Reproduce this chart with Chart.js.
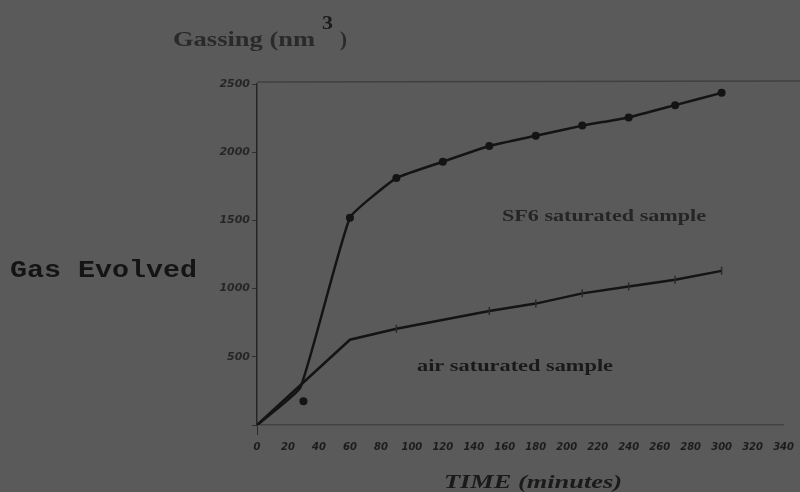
<!DOCTYPE html>
<html>
<head>
<meta charset="utf-8">
<title>Gassing</title>
<script src="https://cdn.jsdelivr.net/npm/chart.js@4.4.1/dist/chart.umd.min.js"></script>
<style>
  html, body { margin: 0; padding: 0; background: #5a5a5a; }
  #wrap { width: 800px; height: 492px; }
</style>
</head>
<body>
<div id="wrap"><canvas id="gasChart" width="800" height="492"></canvas></div>
<script>
// Axis ticks
var timeTicks = [0, 20, 40, 60, 80, 100, 120, 140, 160, 180, 200, 220, 240, 260, 280, 300, 320, 340];
var gasTicks = [0, 500, 1000, 1500, 2000, 2500];

// SF6 saturated sample (minutes / nm3)
var sf6Times = [0, 28, 60, 90, 120, 150, 180, 210, 240, 270, 300];
var sf6Gas = [0, 275, 1520, 1810, 1930, 2045, 2120, 2195, 2255, 2345, 2435];

// air saturated sample
var airTimes = [0, 60, 90, 150, 180, 210, 240, 270, 300];
var airGas = [0, 625, 705, 835, 890, 965, 1015, 1065, 1130];

// lone measured dot near 30 min
var dotTimes = [30];
var dotGas = [175];

var INK = '#141414';
var BG = '#5a5a5a';

function toPoints(xs, ys) {
  return xs.map(function(x, i) { return { x: x, y: ys[i] }; });
}

// draw text stretched to a given width (scan text is wide)
function fitText(ctx, text, font, left, right, baseline, color) {
  ctx.save();
  ctx.font = font;
  ctx.fillStyle = color;
  ctx.textAlign = 'left';
  ctx.textBaseline = 'alphabetic';
  var w = ctx.measureText(text).width;
  ctx.translate(left, baseline);
  ctx.scale((right - left) / w, 1);
  ctx.fillText(text, 0, 0);
  ctx.restore();
}

var decorPlugin = {
  id: 'decor',
  beforeDraw: function(chart) {
    var ctx = chart.ctx;
    ctx.save();
    ctx.fillStyle = BG;
    ctx.fillRect(0, 0, chart.width, chart.height);
    ctx.restore();
  },
  afterDraw: function(chart) {
    var ctx = chart.ctx;
    var area = chart.chartArea;
    var y = chart.scales.y;

    // top frame line running to the page edge
    ctx.save();
    ctx.strokeStyle = '#404040';
    ctx.lineWidth = 1.5;
    ctx.beginPath();
    ctx.moveTo(area.left, y.getPixelForValue(2500) - 2);
    ctx.lineTo(chart.width, y.getPixelForValue(2500) - 3);
    ctx.stroke();
    ctx.restore();

    // axis title top-left
    fitText(ctx, 'Gassing (nm', 'bold 22px "Liberation Serif"', 173, 315, 46, '#2a2a2a');
    fitText(ctx, '3', 'bold 19px "Liberation Serif"', 322, 333, 29, '#1c1c1c');
    fitText(ctx, ')', 'bold 22px "Liberation Serif"', 340, 347, 46, '#2a2a2a');

    // left label
    fitText(ctx, 'Gas Evolved', 'bold 23px "Liberation Mono"', 10, 197, 277, INK);

    // curve annotations
    fitText(ctx, 'SF6 saturated sample', 'bold 17px "Liberation Serif"', 502, 706, 221, '#252525');
    fitText(ctx, 'air saturated sample', 'bold 17px "Liberation Serif"', 417, 613, 371, '#1a1a1a');

    // x axis title
    fitText(ctx, 'TIME (minutes)', 'italic bold 19px "Liberation Serif"', 444, 622, 488, '#1a1a1a');
  }
};

var ctx = document.getElementById('gasChart');
var chart = new Chart(ctx.getContext('2d'), {
  type: 'line',
  data: {
    datasets: [
      {
        label: 'SF6 saturated sample',
        data: toPoints(sf6Times, sf6Gas),
        borderColor: INK,
        backgroundColor: INK,
        borderWidth: 2.5,
        tension: 0.12,
        pointRadius: function(c) { return c.dataIndex < 2 ? 0 : 4; },
        pointBackgroundColor: INK,
        pointBorderWidth: 0
      },
      {
        label: 'air saturated sample',
        data: toPoints(airTimes, airGas),
        borderColor: INK,
        backgroundColor: INK,
        borderWidth: 2.5,
        tension: 0,
        pointStyle: 'line',
        rotation: 90,
        pointRadius: function(c) { return c.dataIndex < 2 ? 0 : 4; },
        pointBorderColor: '#2a2a2a',
        pointBorderWidth: 1.5
      },
      {
        label: 'dot',
        data: toPoints(dotTimes, dotGas),
        showLine: false,
        pointRadius: 4,
        pointBackgroundColor: INK,
        pointBorderWidth: 0
      }
    ]
  },
  options: {
    responsive: false,
    animation: false,
    events: [],
    layout: { padding: { top: 84, right: 16, left: 0, bottom: 0 } },
    plugins: {
      legend: { display: false },
      tooltip: { enabled: false }
    },
    scales: {
      x: {
        type: 'linear',
        min: 0,
        max: 340,
        afterBuildTicks: function(s) {
          s.ticks = timeTicks.map(function(v) { return { value: v }; });
        },
        afterFit: function(s) { s.height = 67; },
        border: { display: true, color: '#424242', width: 1.5 },
        grid: {
          drawOnChartArea: false,
          drawTicks: true,
          tickLength: 10,
          tickColor: function(c) { return c.tick && c.tick.value === 0 ? '#2a2a2a' : 'rgba(0,0,0,0)'; }
        },
        ticks: {
          color: '#1c1c1c',
          padding: 6,
          maxRotation: 0,
          autoSkip: false,
          font: { family: '"DejaVu Sans"', size: 10, style: 'italic', weight: 'bold' }
        }
      },
      y: {
        type: 'linear',
        min: 0,
        max: 2500,
        afterBuildTicks: function(s) {
          s.ticks = gasTicks.map(function(v) { return { value: v }; });
        },
        afterFit: function(s) { s.width = 257; },
        border: { display: true, color: '#262626', width: 1.5 },
        grid: {
          drawOnChartArea: false,
          drawTicks: true,
          tickLength: 5,
          tickColor: '#2e2e2e'
        },
        ticks: {
          color: '#262626',
          padding: 2,
          font: { family: '"DejaVu Sans"', size: 11, style: 'italic', weight: 'bold' },
          callback: function(v) { return v === 0 ? '' : String(v); }
        }
      }
    }
  },
  plugins: [decorPlugin]
});
</script>
</body>
</html>
